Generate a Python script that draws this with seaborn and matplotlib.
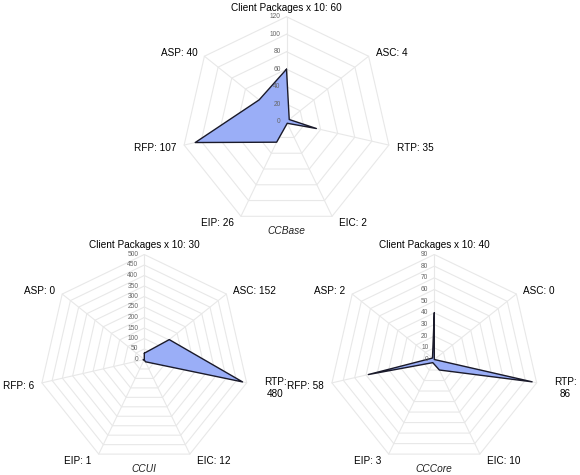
import numpy as np
import matplotlib
matplotlib.use("Agg")
import matplotlib.pyplot as plt
import seaborn as sns

# ---------------- data ----------------
categories = ["Client Packages x 10", "ASC", "RTP", "EIC", "EIP", "RFP", "ASP"]

chart_names = ["CCBase", "CCUI", "CCCore"]
ccbase_values = [60, 4, 35, 2, 26, 107, 40]
ccui_values = [30, 152, 480, 12, 1, 6, 0]
cccore_values = [40, 0, 86, 10, 3, 58, 2]

ccbase_ticks = [0, 20, 40, 60, 80, 100, 120]
ccui_ticks = [0, 50, 100, 150, 200, 250, 300, 350, 400, 450, 500]
cccore_ticks = [0, 10, 20, 30, 40, 50, 60, 70, 80, 90]

# categories whose label is wrapped onto two lines
wrapped = {"CCBase": [], "CCUI": ["RTP"], "CCCore": ["RTP"]}

# ---------------- style ----------------
sns.set_theme(style="white")
plt.rcParams["font.family"] = ["Liberation Sans", "DejaVu Sans"]

FILL = "#9aaef7"
EDGE = "#1a1a2a"
GRID = "#e8e8e8"
TICKC = "#666666"

W, H, DPI = 580, 475, 100
fig = plt.figure(figsize=(W / DPI, H / DPI), dpi=DPI)

R_PX = 105.0
HALF = 120.0

# centres of the three radar charts (pixels from top-left)
centres = {"CCBase": (286.5, 121.7), "CCUI": (144.3, 359.5), "CCCore": (434.3, 359.5)}
values = {"CCBase": ccbase_values, "CCUI": ccui_values, "CCCore": cccore_values}
ticks = {"CCBase": ccbase_ticks, "CCUI": ccui_ticks, "CCCore": cccore_ticks}

n = len(categories)
theta = 2 * np.pi * np.arange(n) / n
sx, sy = np.sin(theta), np.cos(theta)

# label placement: (dx px, dy px, ha)
label_pos = [(0, 9, "center"), (7, 3, "left"), (8, -3, "left"), (7, -7, "left"),
             (-7, -7, "right"), (-8, -3, "right"), (-7, 3, "right")]

for name in chart_names:
    cx, cy = centres[name]
    ax = fig.add_axes([(cx - HALF) / W, 1 - (cy + HALF) / H, 2 * HALF / W, 2 * HALF / H])
    lim = HALF / R_PX
    ax.set_xlim(-lim, lim)
    ax.set_ylim(-lim, lim)
    ax.axis("off")

    tk = ticks[name]
    rmax = tk[-1]

    # rings
    for t in tk[1:]:
        r = t / rmax
        ax.plot(np.append(r * sx, r * sx[0]), np.append(r * sy, r * sy[0]),
                color=GRID, lw=0.8, zorder=1)
    # spokes
    for i in range(n):
        ax.plot([0, sx[i]], [0, sy[i]], color=GRID, lw=0.8, zorder=1)

    # data polygon
    v = np.array(values[name], dtype=float) / rmax
    px = np.append(v * sx, v[0] * sx[0])
    py = np.append(v * sy, v[0] * sy[0])
    ax.fill(px, py, color=FILL, zorder=2, lw=0)
    sns.lineplot(x=px, y=py, sort=False, estimator=None, color=EDGE, lw=1.0,
                 ax=ax, zorder=3)

    # tick labels
    for t in tk:
        ax.annotate(str(t), xy=(0, t / rmax), xytext=(-6, 0), textcoords="offset pixels",
                    ha="right", va="center", fontsize=4.8, color=TICKC, zorder=5)

    # category labels
    for i, cat in enumerate(categories):
        sep = "\n" if cat in wrapped[name] else " "
        txt = f"{cat}:{sep}{values[name][i]}"
        dx, dy, ha = label_pos[i]
        if sep == "\n":
            dx, dy = 17, -5
        ax.annotate(txt, xy=(sx[i], sy[i]), xytext=(dx, dy), textcoords="offset pixels",
                    ha=ha, va="center", multialignment="center",
                    fontsize=7.2, color="black", annotation_clip=False)

    # chart title below the bottom edge
    ax.annotate(name, xy=(0, -np.cos(np.pi / n)), xytext=(0, -15),
                textcoords="offset pixels", ha="center", va="center",
                fontsize=7.3, fontstyle="italic", color="#222222",
                annotation_clip=False)

fig.savefig("out.png", dpi=DPI)
